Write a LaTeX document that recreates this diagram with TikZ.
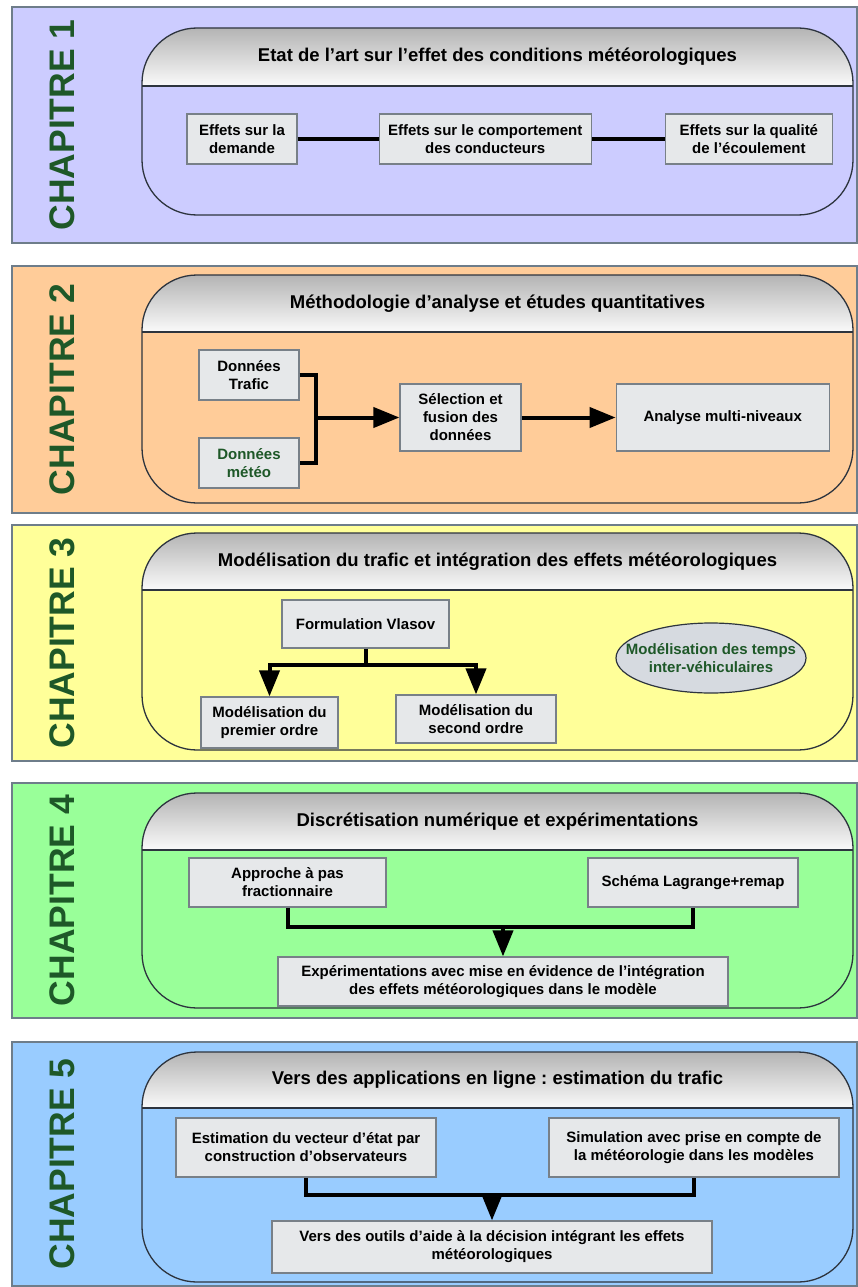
\documentclass[tikz,border=0pt]{standalone}
\usepackage{fontspec}
\setmainfont{Liberation Sans}
\usetikzlibrary{positioning}
\usetikzlibrary{shapes.geometric}
\usetikzlibrary{arrows.meta}
\frenchspacing

\definecolor{lavande}{RGB}{204,204,255}
\definecolor{peche}{RGB}{255,204,153}
\definecolor{jaune}{RGB}{255,255,153}
\definecolor{vertclair}{RGB}{153,255,153}
\definecolor{bleu}{RGB}{153,204,255}
\definecolor{bord}{RGB}{110,125,138}
\definecolor{cadre}{RGB}{45,52,62}
\definecolor{vertfonce}{RGB}{30,88,40}
\definecolor{gristop}{RGB}{180,180,180}
\definecolor{grisbas}{RGB}{250,250,250}
\definecolor{boxfill}{RGB}{230,232,234}
\definecolor{boxline}{RGB}{120,128,136}
\definecolor{ellfill}{RGB}{214,218,224}

\tikzset{panel/.style={draw=bord, line width=1.5},
  frame/.style={draw=cadre, line width=1.3, rounded corners=55},
  head/.style={top color=gristop, bottom color=grisbas},
  chap/.style={rotate=90, text=vertfonce, inner sep=0, font=\bfseries\fontsize{35.5}{40}\selectfont},
  title node/.style={inner sep=0, font=\bfseries\fontsize{18.5}{22}\selectfont},
  main box/.style={draw=boxline, fill=boxfill, line width=1.2, inner sep=2, align=center, font=\bfseries\fontsize{15}{18}\selectfont},
  ell node/.style={ellipse, draw=cadre, fill=ellfill, line width=1.2, inner xsep=-20pt, inner ysep=0pt, align=center, text=vertfonce, font=\bfseries\fontsize{15}{18}\selectfont},
  link/.style={line width=3.5},
  conn/.style={line width=4},
  arr/.style={line width=4, -{Triangle[length=26pt,width=20pt]}},
}

% cadre d'un chapitre : haut, bas, haut du bloc, bas du bandeau, bas du bloc, couleur
\newcommand{\chapframe}[6]{%
  \filldraw[panel, fill=#6] (12,#1) rectangle (857,#2);
  \begin{scope}
    \clip[rounded corners=55] (142,#3) rectangle (853,#5);
    \shade[head] (142,#3) rectangle (853,#4);
  \end{scope}
  \draw[frame] (142,#3) rectangle (853,#5);
  \draw[frame] (142,#4) -- (853,#4);
}

\begin{document}
\begin{tikzpicture}[x=1pt,y=-1pt]
    \fill[white] (0,0) rectangle (858,1287);
    \useasboundingbox (0,0) rectangle (858,1287);

    % chapitre 1
    \chapframe{7}{243}{28}{86}{215}{lavande}
    \node[chap] (ch1) at (62,125) {CHAPITRE 1};
    \node[title node] (ti1) at (497.5,57) {Etat de l’art sur l’effet des conditions météorologiques};
    \node[main box, minimum width=110, minimum height=50] (dem) at (242,139) {Effets sur la\\demande};
    \node[main box, minimum width=212, minimum height=50] (comp) [right=81pt of dem] {Effets sur le comportement\\des conducteurs};
    \node[main box, minimum width=167, minimum height=50] (qual) [right=73pt of comp] {Effets sur la qualité\\de l’écoulement};
    \draw[link] (dem) -- (comp);
    \draw[link] (comp) -- (qual);

    % chapitre 2
    \chapframe{266}{513}{275}{332}{503}{peche}
    \node[chap] (ch2) at (62,389.5) {CHAPITRE 2};
    \node[title node] (ti2) at (497.5,303.5) {Méthodologie d’analyse et études quantitatives};
    \node[main box, minimum width=100, minimum height=50] (traf) at (249,375) {Données\\Trafic};
    \node[main box, minimum width=100, minimum height=50, text=vertfonce] (met) at (249,463) {Données\\météo};
    \node[main box, minimum width=121, minimum height=67] (sel) at (460.5,417.5) {Sélection et\\fusion des\\données};
    \node[main box, minimum width=213, minimum height=67] (ana) [right=94pt of sel] {Analyse multi-niveaux};
    \coordinate (j2) at (316,417.5);
    \draw[conn] (traf.east) -| (j2) |- (met.east);
    \draw[arr] (j2) -- (sel.west);
    \draw[arr] (sel) -- (ana);

    % chapitre 3
    \chapframe{525}{761}{533}{590}{750}{jaune}
    \node[chap] (ch3) at (62,643) {CHAPITRE 3};
    \node[title node] (ti3) at (497.5,561.5) {Modélisation du trafic et intégration des effets météorologiques};
    \node[main box, minimum width=167, minimum height=48] (form) at (365.5,624) {Formulation Vlasov};
    \node[main box, minimum width=137, minimum height=51] (prem) at (269.5,722.5) {Modélisation du\\premier ordre};
    \node[main box, minimum width=160, minimum height=48] (sec) at (476,719) {Modélisation du\\second ordre};
    \node[ell node, minimum width=190, minimum height=70] (tps) at (711,658) {Modélisation des temps\\inter-véhiculaires};
    \coordinate (j3) at (365.5,665);
    \draw[conn] (form.south) -- (j3);
    \draw[arr] (j3) -| (prem.north);
    \draw[arr] (j3) -| (sec.north);

    % chapitre 4
    \chapframe{783}{1018}{793}{850}{1008}{vertclair}
    \node[chap] (ch4) at (62,900.5) {CHAPITRE 4};
    \node[title node] (ti4) at (497.5,821.5) {Discrétisation numérique et expérimentations};
    \node[main box, minimum width=197, minimum height=49] (appr) at (287.5,882.5) {Approche à pas\\fractionnaire};
    \node[main box, minimum width=210, minimum height=49] (sch) at (693,882.5) {Schéma Lagrange+remap};
    \node[main box, minimum width=450, minimum height=49] (exp) at (503,981.5) {Expérimentations avec mise en évidence de l’intégration\\des effets météorologiques dans le modèle};
    \coordinate (j4) at (503,927);
    \draw[conn] (appr.south) |- (j4) -| (sch.south);
    \draw[arr] (j4) -- (exp.north);

    % chapitre 5
    \chapframe{1042}{1286}{1052}{1108}{1282}{bleu}
    \node[chap] (ch5) at (62,1164) {CHAPITRE 5};
    \node[title node] (ti5) at (497.5,1080) {Vers des applications en ligne : estimation du trafic};
    \node[main box, minimum width=260, minimum height=59] (est) at (306,1147.5) {Estimation du vecteur d’état par\\construction d’observateurs};
    \node[main box, minimum width=290, minimum height=59] (sim) at (694,1147.5) {Simulation avec prise en compte de\\la météorologie dans les modèles};
    \node[main box, minimum width=440, minimum height=52] (vers) at (492,1247) {Vers des outils d’aide à la décision intégrant les effets\\météorologiques};
    \coordinate (j5) at (492,1195);
    \draw[conn] (est.south) |- (j5) -| (sim.south);
    \draw[arr] (j5) -- (vers.north);
\end{tikzpicture}
\end{document}
